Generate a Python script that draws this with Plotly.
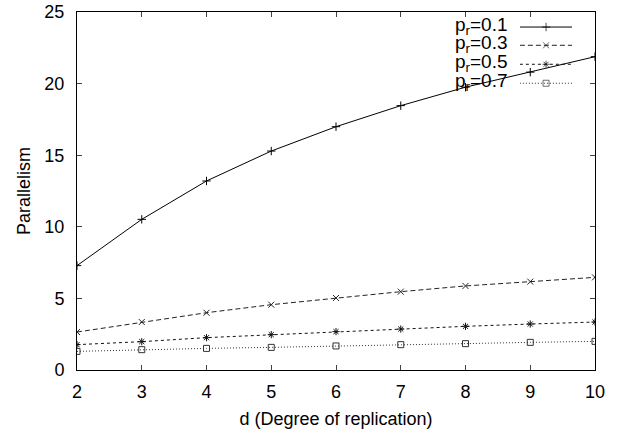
import plotly.graph_objects as go

d = [2, 3, 4, 5, 6, 7, 8, 9, 10]
p01 = [7.29, 10.52, 13.2, 15.29, 16.99, 18.46, 19.75, 20.8, 21.88]
p03 = [2.65, 3.35, 4.0, 4.56, 5.03, 5.47, 5.87, 6.17, 6.47]
p05 = [1.77, 1.98, 2.26, 2.47, 2.68, 2.86, 3.05, 3.21, 3.35]
p07 = [1.3, 1.42, 1.51, 1.58, 1.68, 1.77, 1.84, 1.93, 2.0]
labels = ["p<sub>r</sub>=0.1", "p<sub>r</sub>=0.3", "p<sub>r</sub>=0.5", "p<sub>r</sub>=0.7"]
x_ticks = [2, 3, 4, 5, 6, 7, 8, 9, 10]
y_ticks = [0, 5, 10, 15, 20, 25]

series = [p01, p03, p05, p07]
dashes = ["solid", "5px,3px", "3px,3px", "1px,2px"]
symbols = ["cross-thin-open", "x-thin-open", "asterisk-open", "square-open"]
colors = ["#000000", "#222222", "#111111", "#333333"]
sizes = [6, 6, 6, 6]

FONT = "Liberation Sans, Arial, sans-serif"
fig = go.Figure()
for ys, dsh, sym, col, sz, lab in zip(series, dashes, symbols, colors, sizes, labels):
    fig.add_trace(go.Scatter(
        x=d, y=ys, mode="lines+markers", name=lab, showlegend=False,
        line=dict(color=col, width=1, dash=dsh),
        marker=dict(symbol=sym, size=sz, color=col, line=dict(color=col, width=1)),
    ))

# custom legend (text on left, sample on right) on a separate hidden axis pair
leg_y = [0.958, 0.907, 0.854, 0.801]
for ly, dsh, sym, col, sz, lab in zip(leg_y, dashes, symbols, colors, sizes, labels):
    fig.add_trace(go.Scatter(
        x=[0.0, 0.5, 1.0], y=[ly, ly, ly], xaxis="x2", yaxis="y2",
        mode="lines+markers", showlegend=False, hoverinfo="skip",
        line=dict(color=col, width=1, dash=dsh),
        marker=dict(symbol=sym, size=[0, sz, 0], color=col, line=dict(color=col, width=1)),
    ))
    fig.add_annotation(x=0.0, y=ly, xref="x2", yref="y2", text=lab, showarrow=False,
                       xanchor="right", yanchor="middle", xshift=-10, yshift=1,
                       font=dict(family=FONT, size=19, color="black"))

fig.update_layout(
    width=627, height=432,
    margin=dict(l=77, r=32, t=12, b=62, autoexpand=False),
    paper_bgcolor="white", plot_bgcolor="rgba(0,0,0,0)",
    font=dict(family=FONT, size=18, color="black"),
    xaxis=dict(domain=[0, 1], range=[2, 10], tickvals=x_ticks, ticks="inside", ticklen=5,
               showline=True, linecolor="black", linewidth=1, mirror="ticks",
               showgrid=False, zeroline=False, ticklabelstandoff=5, automargin=False,
               title=dict(text="d (Degree of replication)", standoff=11,
                          font=dict(family=FONT, size=18))),
    yaxis=dict(domain=[0, 1], range=[0, 25], tickvals=y_ticks, ticks="inside", ticklen=5,
               showline=True, linecolor="black", linewidth=1, mirror="ticks",
               showgrid=False, zeroline=False, ticklabelstandoff=8, automargin=False,
               title=dict(text="Parallelism", standoff=9,
                          font=dict(family=FONT, size=18))),
    xaxis2=dict(domain=[0.855, 0.956], range=[0, 1], visible=False, anchor="y2",
                automargin=False),
    yaxis2=dict(domain=[0, 1], range=[0, 1], visible=False, anchor="x2",
                automargin=False),
)

fig.write_html("out.html")
